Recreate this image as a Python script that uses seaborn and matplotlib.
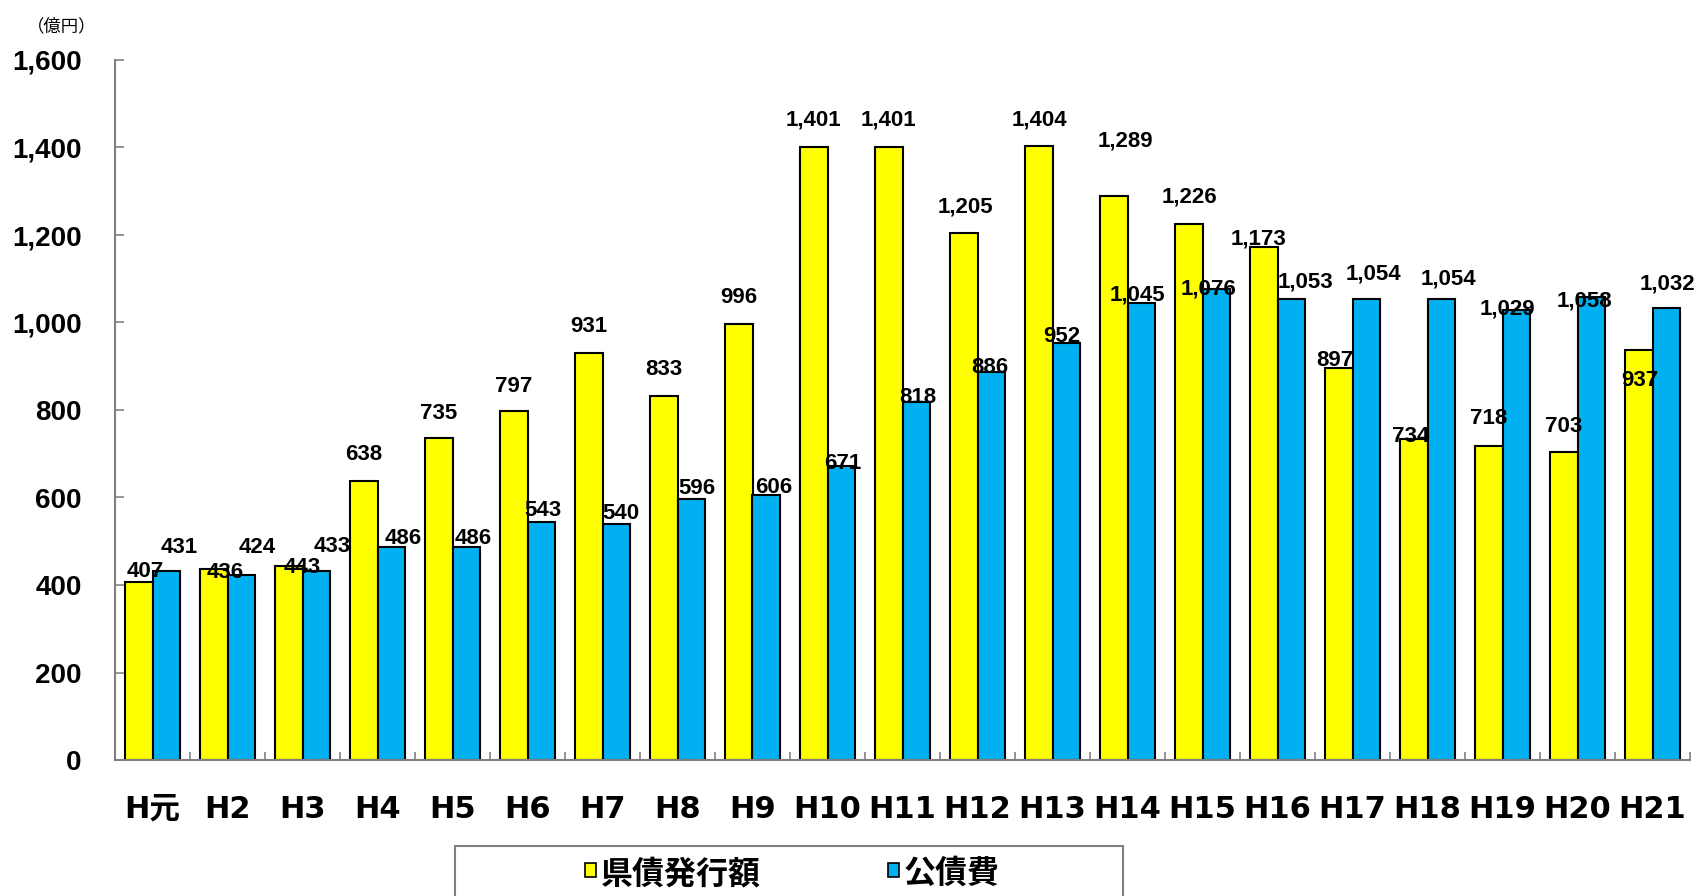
import numpy as np
import pandas as pd
import matplotlib
matplotlib.use("Agg")
import matplotlib.pyplot as plt
from matplotlib.patches import Rectangle
from matplotlib.ticker import FixedLocator, FuncFormatter
import seaborn as sns

# 年度
years = ["H元", "H2", "H3", "H4", "H5", "H6", "H7", "H8", "H9", "H10", "H11",
         "H12", "H13", "H14", "H15", "H16", "H17", "H18", "H19", "H20", "H21"]
# 県債発行額（億円）
issue = [407, 436, 443, 638, 735, 797, 931, 833, 996, 1401, 1401,
         1205, 1404, 1289, 1226, 1173, 897, 734, 718, 703, 937]
# 公債費（億円）
debt = [431, 424, 433, 486, 486, 543, 540, 596, 606, 671, 818,
        886, 952, 1045, 1076, 1053, 1054, 1054, 1029, 1058, 1032]
series_names = ["県債発行額", "公債費"]
y_ticks = [0, 200, 400, 600, 800, 1000, 1200, 1400, 1600]

# label nudges (pixels) relative to each bar's top centre
issue_dx = [6, 11, 13, 0, 0, 0, 0, 0, 0, 0, 0, 2, 1, 12, 1, -5, -4, -3, 0, 0, 1]
issue_dy = [10, -3, -1, 26, 25, 25, 26, 26, 27, 27, 27, 26, 26, 55, 27, 8, 7, 2, 27, 26, -30]
debt_dx = [13, 16, 16, 12, 7, 2, 5, 6, 7, 2, 2, -1, -4, -4, -8, 14, 7, 7, -9, -7, 1]
debt_dy = [24, 27, 24, 9, 9, 12, 10, 11, 7, 3, 5, 5, 7, 8, 0, 17, 25, 20, 1, -4, 25]

YELLOW = "#FFFF00"
BLUE = "#00B0F0"
GREY = "#808080"
NUM_FONT = ["Liberation Sans", "DejaVu Sans"]
CAT_FONT = ["DejaVu Sans", "Noto Sans CJK JP"]
JP_FONT = ["Noto Sans CJK JP", "DejaVu Sans"]

df = pd.DataFrame({
    "年度": years * 2,
    "金額": issue + debt,
    "区分": [series_names[0]] * len(years) + [series_names[1]] * len(years),
})

W, H = 1698, 896
fig = plt.figure(figsize=(W / 100, H / 100), dpi=100)
fig.patch.set_facecolor("white")
ax = fig.add_axes([115 / W, 136 / H, 1575 / W, 700 / H])

sns.barplot(data=df, x="年度", y="金額", hue="区分", order=years,
            hue_order=series_names, palette=[YELLOW, BLUE], saturation=1,
            width=0.733, gap=0, edgecolor="black", linewidth=1.5,
            legend=False, errorbar=None, ax=ax)

ax.set_xlim(-0.5, len(years) - 0.5)
ax.set_ylim(0, 1600)
ax.set_xlabel("")
ax.set_ylabel("")

for side in ("top", "right"):
    ax.spines[side].set_visible(False)
for side in ("left", "bottom"):
    ax.spines[side].set_color(GREY)
    ax.spines[side].set_linewidth(1.5)

ax.set_yticks(y_ticks)
ax.yaxis.set_major_formatter(FuncFormatter(lambda v, p: f"{int(v):,}"))
ax.tick_params(axis="y", direction="in", length=6.5, width=1.2, color=GREY, pad=24)
for lab in ax.get_yticklabels():
    lab.set_fontfamily(NUM_FONT)
    lab.set_fontsize(20)
    lab.set_fontweight("bold")

ax.xaxis.set_minor_locator(FixedLocator(np.arange(-0.5, len(years), 1.0)))
ax.tick_params(axis="x", which="major", length=0, pad=25)
ax.tick_params(axis="x", which="minor", direction="in", length=6, width=1.2, color=GREY)
for lab in ax.get_xticklabels():
    lab.set_fontfamily(CAT_FONT)
    lab.set_fontsize(22)
    lab.set_fontweight("bold")

# value labels
for container, values, dxs, dys in zip(ax.containers, [issue, debt],
                                       [issue_dx, debt_dx], [issue_dy, debt_dy]):
    for bar, v, dx, dy in zip(container.patches, values, dxs, dys):
        cx = bar.get_x() + bar.get_width() / 2
        ax.annotate(f"{v:,}", xy=(cx, v), xytext=(dx, dy),
                    textcoords="offset pixels", ha="center", va="center",
                    fontsize=16, fontweight="bold", fontfamily=NUM_FONT,
                    color="black", annotation_clip=False)

# unit label
fig.text(62 / W, 1 - 26 / H, "（億円）", ha="center", va="center",
         fontsize=12.5, fontfamily=JP_FONT, color="black")

# legend box running off the bottom edge
box_left, box_right, box_top = 455, 1123, 846
fig.patches.append(Rectangle((box_left / W, -20 / H), (box_right - box_left) / W,
                             (H - box_top + 20) / H, transform=fig.transFigure,
                             facecolor="white", edgecolor=GREY, linewidth=1.5))
legend_items = [(585, 601, series_names[0], YELLOW), (888, 904, series_names[1], BLUE)]
for mx, tx, name, col in legend_items:
    fig.patches.append(Rectangle((mx / W, 1 - 877 / H), 11 / W, 14 / H,
                                 transform=fig.transFigure, facecolor=col,
                                 edgecolor="black", linewidth=1.2))
    fig.text(tx / W, 1 - 874 / H, name, ha="left", va="center", fontsize=23,
             fontweight="bold", fontfamily=JP_FONT, color="black")

fig.savefig("out.png", dpi=100, facecolor="white")
